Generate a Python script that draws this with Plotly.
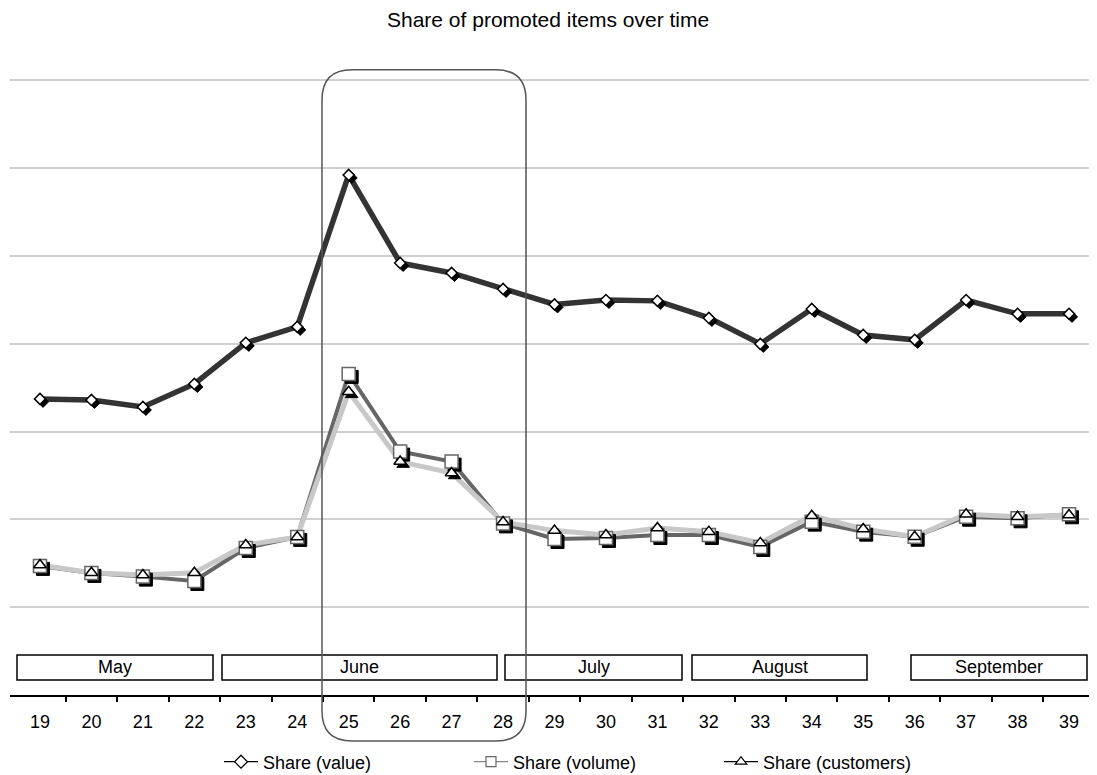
import plotly.graph_objects as go

# ---------------- data ----------------
weeks = list(range(19, 40))
week_labels = [str(w) for w in weeks]
share_value = [16.86, 16.80, 16.40, 17.71, 20.05, 20.96, 29.61, 24.60, 24.03, 23.12,
               22.24, 22.49, 22.44, 21.47, 19.99, 21.98, 20.50, 20.22, 22.49, 21.70, 21.70]
share_volume = [7.35, 6.95, 6.74, 6.49, 8.37, 9.00, 18.28, 13.86, 13.29, 9.77,
                8.88, 8.94, 9.11, 9.11, 8.43, 9.87, 9.30, 9.01, 10.15, 10.06, 10.29]
share_customers = [7.40, 6.96, 6.83, 6.96, 8.54, 9.00, 17.26, 13.29, 12.64, 9.85,
                   9.36, 9.11, 9.51, 9.30, 8.66, 10.21, 9.45, 9.01, 10.29, 10.15, 10.25]
series_names = ["Share (value)", "Share (volume)", "Share (customers)"]
months = ["May", "June", "July", "August", "September"]
title_text = "Share of promoted items over time"

# ---------------- geometry ----------------
# page body has an 8px margin; reference pixel coords are converted to figure coords
BODY = 8
W, H = 1097 - BODY, 775 - BODY          # 1089 x 767
FONT = "Arial, Liberation Sans, sans-serif"
SH = 3                                   # shadow offset px

REF_X0, REF_X1 = 10, 1094
REF_YBOT = 695
PX_PER_UNIT = 17.56
YR = [0, 35.3]
REF_YTOP = REF_YBOT - YR[1] * PX_PER_UNIT
XR = [19 - 30 / 51.5, 39 + 25 / 51.5]

F_X0 = REF_X0 - BODY
F_X1 = REF_X1 + SH - BODY
F_YTOP = REF_YTOP - BODY
F_YBOT = REF_YBOT + SH - BODY
ML, MR = F_X0, W - F_X1
MT, MB = F_YTOP, H - F_YBOT
PW = F_X1 - F_X0
PH = F_YBOT - F_YTOP


def px_x(p):  # reference px -> paper
    return (p - BODY - F_X0) / PW


def px_y(p):
    return (F_YBOT - (p - BODY)) / PH


main_xdom = [0, (PW - SH) / PW]
sh_xdom = [SH / PW, 1]
main_ydom = [SH / PH, 1]
sh_ydom = [0, (PH - SH) / PH]

line_styles = [
    dict(color="#333333", width=5.5),
    dict(color="#666666", width=4),
    dict(color="#c8c8c8", width=5),
]
symbols = ["diamond", "square", "triangle-up"]
msizes = [8.5, 13, 11]
mline_colors = ["#000000", "#666666", "#000000"]
all_series = [share_value, share_volume, share_customers]

fig = go.Figure()

for vals, ls, nm in zip(all_series, line_styles, series_names):
    fig.add_trace(go.Scatter(x=weeks, y=vals, mode="lines", line=ls, name=nm,
                             showlegend=False, hoverinfo="skip",
                             xaxis="x", yaxis="y"))
for vals, sym, ms in zip(all_series, symbols, msizes):
    fig.add_trace(go.Scatter(x=weeks, y=vals, mode="markers",
                             marker=dict(symbol=sym, size=ms, color="black",
                                         line=dict(width=1, color="black")),
                             showlegend=False, hoverinfo="skip", cliponaxis=False,
                             xaxis="x2", yaxis="y2"))
for vals, sym, ms, mlc, nm in zip(all_series, symbols, msizes, mline_colors, series_names):
    fig.add_trace(go.Scatter(x=weeks, y=vals, mode="markers", name=nm,
                             marker=dict(symbol=sym, size=ms, color="white",
                                         line=dict(width=1.5, color=mlc)),
                             showlegend=False, cliponaxis=False,
                             xaxis="x3", yaxis="y3"))
leg_line_colors = ["#000000", "#888888", "#000000"]
for sym, mlc, llc, nm in zip(symbols, mline_colors, leg_line_colors, series_names):
    fig.add_trace(go.Scatter(x=[None], y=[None], mode="lines+markers", name=nm,
                             line=dict(color=llc, width=1.3),
                             marker=dict(symbol=sym, size=10, color="white",
                                         line=dict(width=1.2, color=mlc)),
                             xaxis="x", yaxis="y"))

boundaries = [w + 0.5 for w in weeks]
hidden = dict(visible=False, showgrid=False, zeroline=False, fixedrange=True)

month_boxes_px = [(17, 213), (222, 497), (505, 682), (692, 867), (911, 1087)]
box_top, box_bot = 655, 680

shapes = []
annotations = []
for (x0, x1), m in zip(month_boxes_px, months):
    shapes.append(dict(type="rect", xref="paper", yref="paper",
                       x0=px_x(x0), x1=px_x(x1), y0=px_y(box_bot), y1=px_y(box_top),
                       line=dict(color="black", width=1.5), fillcolor="white", layer="above"))
    annotations.append(dict(text=m, xref="paper", yref="paper",
                            x=px_x((x0 + x1) / 2), y=px_y((box_top + box_bot) / 2),
                            showarrow=False, xanchor="center", yanchor="middle",
                            font=dict(family=FONT, size=18, color="black")))


def rrect(x0, y0, x1, y1, r):
    def P(x, y):
        return f"{px_x(x):.5f},{px_y(y):.5f}"
    return (f"M {P(x0 + r, y0)} L {P(x1 - r, y0)} Q {P(x1, y0)} {P(x1, y0 + r)} "
            f"L {P(x1, y1 - r)} Q {P(x1, y1)} {P(x1 - r, y1)} "
            f"L {P(x0 + r, y1)} Q {P(x0, y1)} {P(x0, y1 - r)} "
            f"L {P(x0, y0 + r)} Q {P(x0, y0)} {P(x0 + r, y0)} Z")


shapes.append(dict(type="path", xref="paper", yref="paper",
                   path=rrect(322, 70, 526, 741, 30),
                   line=dict(color="#555555", width=1.5), layer="above"))

annotations.append(dict(text=title_text, xref="paper", yref="paper",
                        x=px_x(548), y=px_y(20), showarrow=False,
                        xanchor="center", yanchor="middle",
                        font=dict(family=FONT, size=21, color="black")))

fig.update_layout(
    width=W, height=H,
    margin=dict(l=ML, r=MR, t=MT, b=MB, autoexpand=False),
    paper_bgcolor="white", plot_bgcolor="rgba(0,0,0,0)",
    font=dict(family=FONT, color="black"),
    xaxis=dict(domain=main_xdom, range=XR, tickvals=weeks, ticktext=week_labels,
               ticks="", showgrid=False, zeroline=False, showline=True,
               linecolor="black", linewidth=2, anchor="y",
               ticklabelstandoff=9,
               tickfont=dict(family=FONT, size=18, color="black"),
               minor=dict(tickvals=boundaries, ticks="outside", ticklen=5,
                          tickwidth=1.5, tickcolor="black", showgrid=False),
               fixedrange=True),
    yaxis=dict(domain=main_ydom, range=YR, dtick=5, tick0=0, showgrid=True,
               gridcolor="#d0d0d0", gridwidth=2, showticklabels=False,
               zeroline=False, showline=False, ticks="", anchor="x", fixedrange=True),
    xaxis2=dict(domain=sh_xdom, range=XR, anchor="y2", **hidden),
    yaxis2=dict(domain=sh_ydom, range=YR, anchor="x2", **hidden),
    xaxis3=dict(domain=main_xdom, range=XR, anchor="y3", **hidden),
    yaxis3=dict(domain=main_ydom, range=YR, anchor="x3", **hidden),
    legend=dict(orientation="h", x=px_x(219), xanchor="left",
                y=px_y(762), yanchor="middle",
                entrywidth=201, entrywidthmode="pixels", itemwidth=34,
                font=dict(family=FONT, size=18, color="black"),
                bgcolor="rgba(0,0,0,0)"),
    shapes=shapes,
    annotations=annotations,
    showlegend=True,
)

fig.write_html("out.html")
